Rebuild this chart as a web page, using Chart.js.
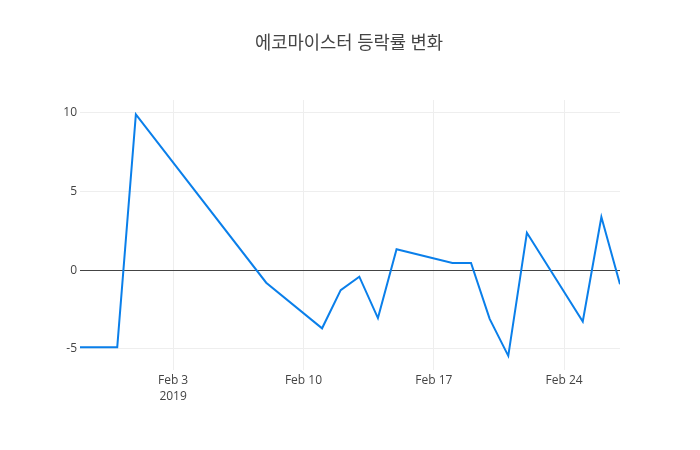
<!DOCTYPE html>
<html>
<head>
<meta charset="utf-8">
<script src="https://cdn.jsdelivr.net/npm/chart.js@4"></script>
<style>
  html, body { margin: 0; padding: 0; background: #fff; }
  #wrap { width: 700px; height: 450px; }
</style>
</head>
<body>
<div id="wrap"><canvas id="chart"></canvas></div>
<script>
// trading days (2019) and daily change rate, %
const dates = [
  "2019-01-29", "2019-01-31", "2019-02-01", "2019-02-08", "2019-02-11",
  "2019-02-12", "2019-02-13", "2019-02-14", "2019-02-15", "2019-02-18",
  "2019-02-19", "2019-02-20", "2019-02-21", "2019-02-22", "2019-02-25",
  "2019-02-26", "2019-02-27"
];
const changeRate = [
  -4.9, -4.9, 9.9, -0.8, -3.7,
  -1.27, -0.42, -3.05, 1.33, 0.45,
  0.45, -3.1, -5.45, 2.37, -3.27,
  3.37, -0.9
];
const tickDates = ["2019-02-03", "2019-02-10", "2019-02-17", "2019-02-24"];
const tickLabels = [["Feb 3", "2019"], ["Feb 10"], ["Feb 17"], ["Feb 24"]];
const yTicks = [-5, 0, 5, 10];

const title = "에코마이스터 등락률 변화";
const fontFamily = '"Open Sans", "Noto Sans CJK KR", sans-serif';

const toTime = (d) => Date.parse(d + "T00:00:00Z");

// title drawn by hand so the plot area stays at fixed margins
const titlePlugin = {
  id: "plotTitle",
  afterDraw(chart) {
    const ctx = chart.ctx;
    ctx.save();
    ctx.font = "17.7px " + fontFamily;
    ctx.fillStyle = "#444";
    ctx.textAlign = "center";
    ctx.textBaseline = "middle";
    ctx.fillText(title, 349, 44);
    ctx.restore();
  }
};

new Chart(document.getElementById("chart"), {
  type: "line",
  data: {
    datasets: [{
      data: dates.map((d, i) => ({ x: toTime(d), y: changeRate[i] })),
      borderColor: "rgb(10,127,234)",
      borderWidth: 2,
      pointRadius: 0,
      tension: 0,
      fill: false
    }]
  },
  options: {
    responsive: true,
    maintainAspectRatio: false,
    animation: false,
    layout: { padding: { top: 100, right: 80, left: 0, bottom: 0 } },
    plugins: {
      legend: { display: false },
      title: { display: false },
      tooltip: { enabled: false }
    },
    scales: {
      x: {
        type: "linear",
        min: toTime("2019-01-29"),
        max: toTime("2019-02-27"),
        afterBuildTicks(scale) {
          scale.ticks = tickDates.map((d) => ({ value: toTime(d) }));
        },
        afterFit(scale) { scale.height = 80; },
        ticks: {
          autoSkip: false,
          maxRotation: 0,
          padding: 2,
          color: "#444",
          font: { family: fontFamily, size: 12, lineHeight: 1.35 },
          callback(value) {
            const i = tickDates.findIndex((d) => toTime(d) === value);
            return i >= 0 ? tickLabels[i] : "";
          }
        },
        grid: { color: "#eee", lineWidth: 1, drawTicks: false },
        border: { display: false }
      },
      y: {
        min: -6.35,
        max: 10.81,
        afterBuildTicks(scale) {
          scale.ticks = yTicks.map((v) => ({ value: v }));
        },
        afterFit(scale) { scale.width = 80; },
        ticks: {
          padding: 3,
          color: "#444",
          font: { family: fontFamily, size: 12 }
        },
        grid: {
          drawTicks: false,
          color: (c) => (c.tick && c.tick.value === 0 ? "#444" : "#eee"),
          lineWidth: 1
        },
        border: { display: false }
      }
    }
  },
  plugins: [titlePlugin]
});
</script>
</body>
</html>
